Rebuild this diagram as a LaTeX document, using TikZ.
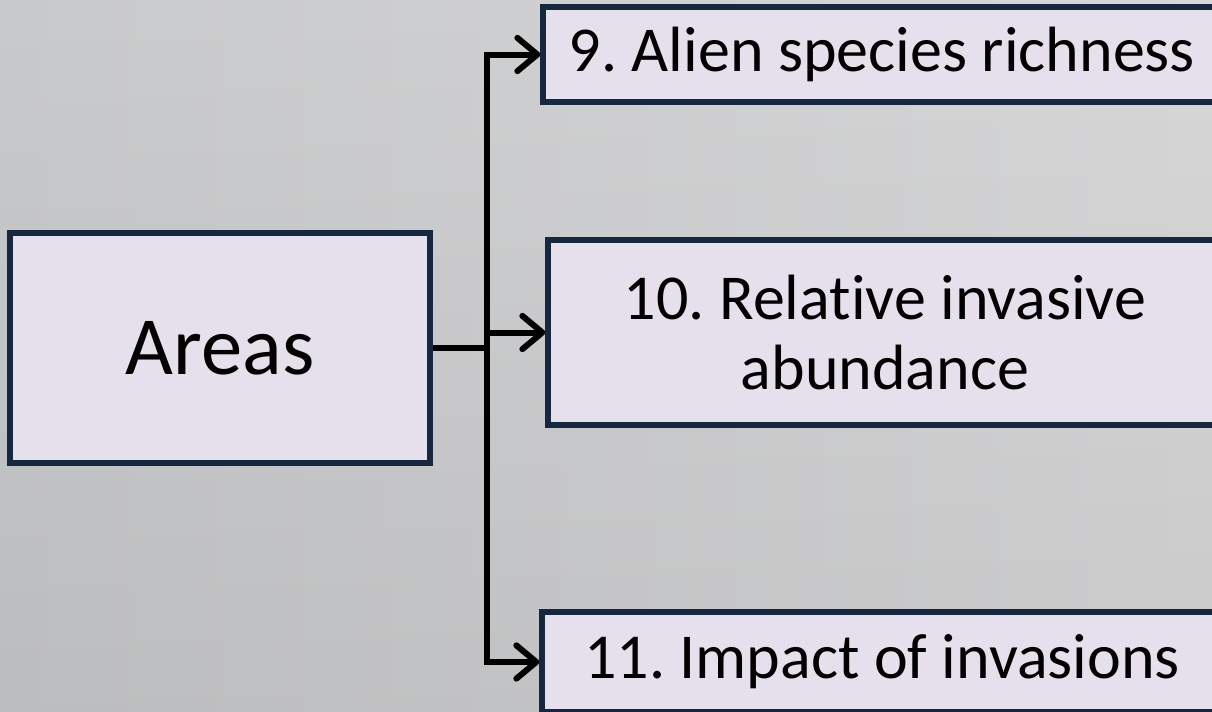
\documentclass[tikz,border=0pt]{standalone}
\usepackage{fontspec}
\setmainfont[Ligatures=NoCommon]{Carlito}
\usetikzlibrary{arrows.meta}
\definecolor{boxfill}{HTML}{E5E0EC}
\definecolor{boxline}{HTML}{16283F}
\definecolor{bgleft}{HTML}{C6C7C9}
\definecolor{bgmid}{HTML}{E2E2E2}
\definecolor{bgright}{HTML}{D5D5D6}
\begin{document}
\frenchspacing
\begin{tikzpicture}[x=0.75pt,y=-0.75pt,
  box/.style={draw=boxline,fill=boxfill,line width=4pt,inner sep=0pt,align=center,
    font=\fontsize{48}{53}\selectfont},
  conn/.style={line width=4.5pt,black},
  arr/.style={conn,-{Straight Barb[length=15pt,width=25pt,round]}}]
\useasboundingbox (0,0) rectangle (1212,711);
\shade[left color=bgleft,middle color=bgmid,right color=bgright] (0,0) rectangle (1212,711);
\shade[top color=white,bottom color=black,opacity=0.05] (0,0) rectangle (1212,711);
\node[box,font=\fontsize{62}{68}\selectfont,minimum width=315pt,minimum height=172.5pt] (areas) at (220,348) {Areas};
\node[box,minimum width=508.5pt,minimum height=71.25pt] (b9) at (882,54.5) {9. Alien species richness};
\node[box,minimum width=505.5pt,minimum height=138.75pt] (b10) at (885,332.5) {10. Relative invasive\\abundance};
\node[box,minimum width=510pt,minimum height=75pt] (b11) at (882,662) {11. Impact of invasions};
\coordinate (j) at (487,348);
\draw[conn] (areas.east) -- (j);
\draw[arr] (j) |- (b9.west);
\draw[arr] (j) |- (b11.west);
\draw[arr] (j |- b10.west) -- (b10.west);
\end{tikzpicture}
\end{document}
